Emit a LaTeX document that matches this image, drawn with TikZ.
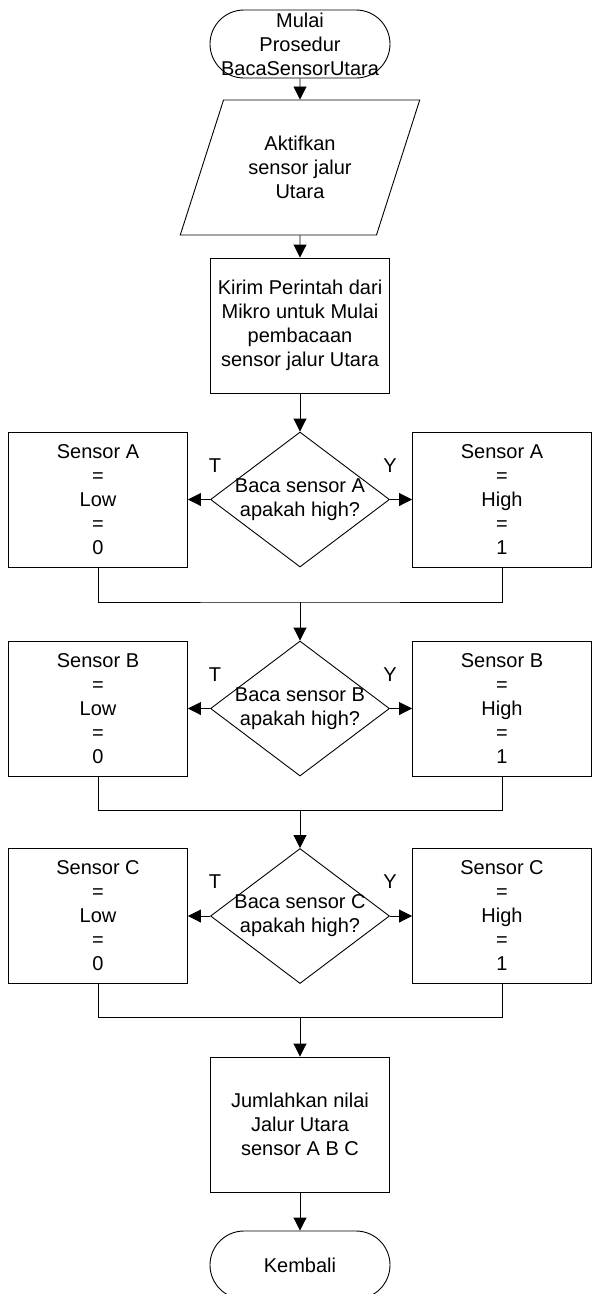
\documentclass[tikz,border=0pt]{standalone}
\usepackage{fontspec}
\setmainfont{Liberation Sans}
\usetikzlibrary{shapes.geometric,arrows.meta}

\tikzset{
  every node/.style={font=\fontsize{20}{24}\selectfont},
  term/.style={draw,rectangle,rounded corners=34pt,minimum width=180pt,minimum height=68pt,inner sep=0pt,align=center},
  io/.style={draw,trapezium,trapezium left angle=65,trapezium right angle=115,trapezium stretches=true,minimum width=240pt,minimum height=135pt,inner sep=0pt,align=center},
  proc/.style={draw,rectangle,minimum width=179pt,minimum height=135pt,inner sep=0pt,align=center},
  dec/.style={draw,diamond,minimum width=179pt,minimum height=135pt,inner sep=0pt},
  dectext/.style={align=center,inner sep=0pt},
}

\begin{document}
\begin{tikzpicture}[x=1pt,y=-1pt,line width=0.9pt,>={Triangle[length=13pt,width=13pt]}]
      \useasboundingbox (0,0) rectangle (593,1294);
      \node[term] (start) at (300,44) {Mulai\\Prosedur\\BacaSensorUtara};
      \node[io] (aktif) at (300,167.5) {Aktifkan\\sensor jalur\\Utara};
      \node[proc] (kirim) at (300,325.5) {Kirim Perintah dari\\Mikro untuk Mulai\\pembacaan\\sensor jalur Utara};
      % sensor A
      \node[dec,label={[dectext,name=qa-t]center:Baca sensor A\\apakah high?}] (qa) at (300,499.5) {};
      \node[proc] (a0) at (98,499.5) {Sensor A\\=\\Low\\=\\0};
      \node[proc] (a1) at (502,499.5) {Sensor A\\=\\High\\=\\1};
      \node (ta) at ([shift={(5,-34)}]qa.west) {T};
      \node (ya) at ([shift={(0,-34)}]qa.east) {Y};
      \coordinate (ma) at (300,602);
      % sensor B
      \node[dec,label={[dectext,name=qb-t]center:Baca sensor B\\apakah high?}] (qb) at (300,708.5) {};
      \node[proc] (b0) at (98,708.5) {Sensor B\\=\\Low\\=\\0};
      \node[proc] (b1) at (502,708.5) {Sensor B\\=\\High\\=\\1};
      \node (tb) at ([shift={(5,-34)}]qb.west) {T};
      \node (yb) at ([shift={(0,-34)}]qb.east) {Y};
      \coordinate (mb) at (300,810);
      % sensor C
      \node[dec,label={[dectext,name=qc-t]center:Baca sensor C\\apakah high?}] (qc) at (300,916) {};
      \node[proc] (c0) at (98,916) {Sensor C\\=\\Low\\=\\0};
      \node[proc] (c1) at (502,916) {Sensor C\\=\\High\\=\\1};
      \node (tc) at ([shift={(5,-34)}]qc.west) {T};
      \node (yc) at ([shift={(0,-34)}]qc.east) {Y};
      \coordinate (mc) at (300,1017);
      \node[proc] (jumlah) at (300,1124.5) {Jumlahkan nilai\\Jalur Utara\\sensor A B C};
      \node[term] (kembali) at (300,1265) {Kembali};
      \begin{scope}[->]
        \draw (start) to (aktif);
        \draw (aktif) to (kirim);
        \draw (kirim) to (qa);
        \draw (qa.west) to (a0);
        \draw (qa.east) to (a1);
        \draw (ma) to (qb);
        \draw (qb.west) to (b0);
        \draw (qb.east) to (b1);
        \draw (mb) to (qc);
        \draw (qc.west) to (c0);
        \draw (qc.east) to (c1);
        \draw (mc) to (jumlah);
        \draw (jumlah) to (kembali);
      \end{scope}
      \begin{scope}[-]
        \draw (a0.south) |- (ma) -| (a1.south);
        \draw (b0.south) |- (mb) -| (b1.south);
        \draw (c0.south) |- (mc) -| (c1.south);
      \end{scope}
    \end{tikzpicture}
\end{document}
